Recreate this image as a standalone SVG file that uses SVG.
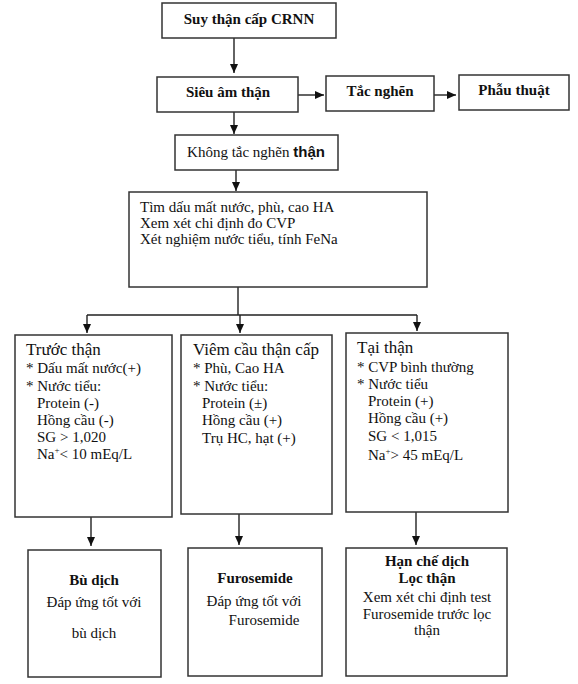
<svg xmlns="http://www.w3.org/2000/svg" width="578" height="684" viewBox="0 0 578 684">
<style>
.box{fill:#fff;stroke:#333;stroke-width:1.5}
text{font-family:"Liberation Serif","Times New Roman",serif;font-size:15px;fill:#111}
.b{font-weight:bold}
.h{font-size:17px}
.c{text-anchor:middle}
.sans{font-family:"Liberation Sans",Arial,sans-serif;font-weight:bold}
.ln{stroke:#222;stroke-width:1.4;fill:none}
</style>
<defs>
<marker id="ah" markerUnits="userSpaceOnUse" markerWidth="10" markerHeight="10" refX="9" refY="4" orient="auto">
<path d="M0,0 L9,4 L0,8 Z" fill="#111"/>
</marker>
</defs>
<rect width="578" height="684" fill="#fff"/>
<g id="connectors">
<path class="ln" d="M234,38 V73" marker-end="url(#ah)"/>
<path class="ln" d="M234,112 V134" marker-end="url(#ah)"/>
<path class="ln" d="M298,95 H324" marker-end="url(#ah)"/>
<path class="ln" d="M434,95 H456" marker-end="url(#ah)"/>
<path class="ln" d="M236,170 V191" marker-end="url(#ah)"/>
<path class="ln" d="M238,287 V315 M87,315 H417"/>
<path class="ln" d="M87,315 V333" marker-end="url(#ah)"/>
<path class="ln" d="M240,315 V333" marker-end="url(#ah)"/>
<path class="ln" d="M417,315 V331" marker-end="url(#ah)"/>
<path class="ln" d="M91,517 V546" marker-end="url(#ah)"/>
<path class="ln" d="M239,514 V545" marker-end="url(#ah)"/>
<path class="ln" d="M416,512 V545" marker-end="url(#ah)"/>
</g>
<g id="suy-than">
<rect class="box" x="162" y="3" width="174" height="35"/>
<text class="b c" x="249" y="24">Suy thận cấp CRNN</text>
</g>
<g id="sieu-am">
<rect class="box" x="157" y="77" width="141" height="35"/>
<text class="b c" x="228" y="97">Siêu âm thận</text>
</g>
<g id="tac-nghen">
<rect class="box" x="326" y="76" width="108" height="35"/>
<text class="b c" x="380" y="96">Tắc nghẽn</text>
</g>
<g id="phau-thuat">
<rect class="box" x="459" y="75" width="110" height="35"/>
<text class="b c" x="514" y="95">Phẫu thuật</text>
</g>
<g id="khong-tac-nghen">
<rect class="box" x="175" y="135" width="163" height="35"/>
<text class="c" x="256" y="157">Không tắc nghẽn <tspan class="sans">thận</tspan></text>
</g>
<g id="tim-dau">
<rect class="box" x="129" y="192" width="298" height="95"/>
<text x="140" y="212">Tìm dấu mất nước, phù, cao HA</text>
<text x="140" y="228">Xem xét chi định đo CVP</text>
<text x="140" y="244">Xét nghiệm nước tiểu, tính FeNa</text>
</g>
<g id="truoc-than">
<rect class="box" x="15" y="335" width="157" height="182"/>
<text class="h" x="26" y="355">Trước thận</text>
<text x="26" y="373">* Dấu mất nước(+)</text>
<text x="26" y="391">* Nước tiểu:</text>
<text x="37" y="408">Protein (-)</text>
<text x="37" y="425">Hồng cầu (-)</text>
<text x="37" y="442">SG &gt; 1,020</text>
<text x="37" y="459">Na<tspan dy="-6" font-size="9">+</tspan><tspan dy="6">&lt; 10 mEq/L</tspan></text>
</g>
<g id="viem-cau-than">
<rect class="box" x="181" y="335" width="151" height="179"/>
<text class="h" x="193" y="355">Viêm cầu thận cấp</text>
<text x="193" y="373">* Phù, Cao HA</text>
<text x="193" y="391">* Nước tiểu:</text>
<text x="202" y="408">Protein (±)</text>
<text x="202" y="425">Hồng cầu (+)</text>
<text x="202" y="443">Trụ HC, hạt (+)</text>
</g>
<g id="tai-than">
<rect class="box" x="346" y="333" width="162" height="179"/>
<text class="h" x="357" y="353">Tại thận</text>
<text x="357" y="372">* CVP bình thường</text>
<text x="357" y="389">* Nước tiểu</text>
<text x="368" y="406">Protein (+)</text>
<text x="368" y="423">Hồng cầu (+)</text>
<text x="368" y="441">SG &lt; 1,015</text>
<text x="368" y="460">Na<tspan dy="-6" font-size="9">+</tspan><tspan dy="6">&gt; 45 mEq/L</tspan></text>
</g>
<g id="bu-dich">
<rect class="box" x="28" y="550" width="133" height="127"/>
<text class="b c" x="94" y="585">Bù dịch</text>
<text class="c" x="94" y="607">Đáp ứng tốt với</text>
<text class="c" x="94" y="638">bù dịch</text>
</g>
<g id="furosemide">
<rect class="box" x="188" y="548" width="134" height="128"/>
<text class="b c" x="255" y="583">Furosemide</text>
<text class="c" x="254" y="606">Đáp ứng tốt với</text>
<text class="c" x="264" y="625">Furosemide</text>
</g>
<g id="han-che-dich">
<rect class="box" x="346" y="548" width="161" height="128"/>
<text class="b c" x="427" y="566">Hạn chế dịch</text>
<text class="b c" x="427" y="583">Lọc thận</text>
<text class="c" x="427" y="602">Xem xét chi định test</text>
<text class="c" x="427" y="619">Furosemide trước lọc</text>
<text class="c" x="427" y="635">thận</text>
</g>
</svg>
